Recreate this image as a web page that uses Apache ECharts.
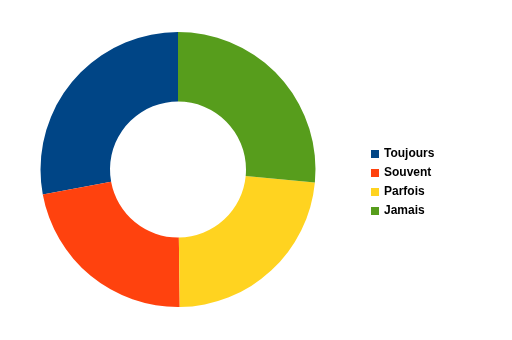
<!DOCTYPE html>
<html><head><meta charset="utf-8">
<script src="https://cdn.jsdelivr.net/npm/echarts@6/dist/echarts.min.js"></script>
<style>html,body{margin:0;padding:0;background:#fff}#c{width:512px;height:340px}</style>
</head><body><div id="c"></div>
<script>
const categories = ["Toujours", "Souvent", "Parfois", "Jamais"];
const values = [27.9, 22.3, 23.3, 26.5];
const colors = ["#004586", "#ff420e", "#ffd320", "#579d1c"];

const chart = echarts.init(document.getElementById('c'), null, {renderer: 'canvas'});
chart.setOption({
  animation: false,
  color: colors,
  legend: {
    orient: 'vertical',
    left: 371,
    top: 148,
    padding: 0,
    itemWidth: 8,
    itemHeight: 8,
    itemGap: 7,
    icon: 'rect',
    textStyle: {fontFamily: 'Liberation Sans', fontWeight: 'bold', fontSize: 12, color: '#000'},
    data: categories
  },
  series: [{
    type: 'pie',
    center: [178, 169.5],
    radius: [68, 137.5],
    startAngle: 90,
    clockwise: false,
    label: {show: false},
    labelLine: {show: false},
    emphasis: {disabled: true},
    itemStyle: {borderWidth: 0},
    data: categories.map((n, i) => ({name: n, value: values[i]}))
  }]
});
</script></body></html>
